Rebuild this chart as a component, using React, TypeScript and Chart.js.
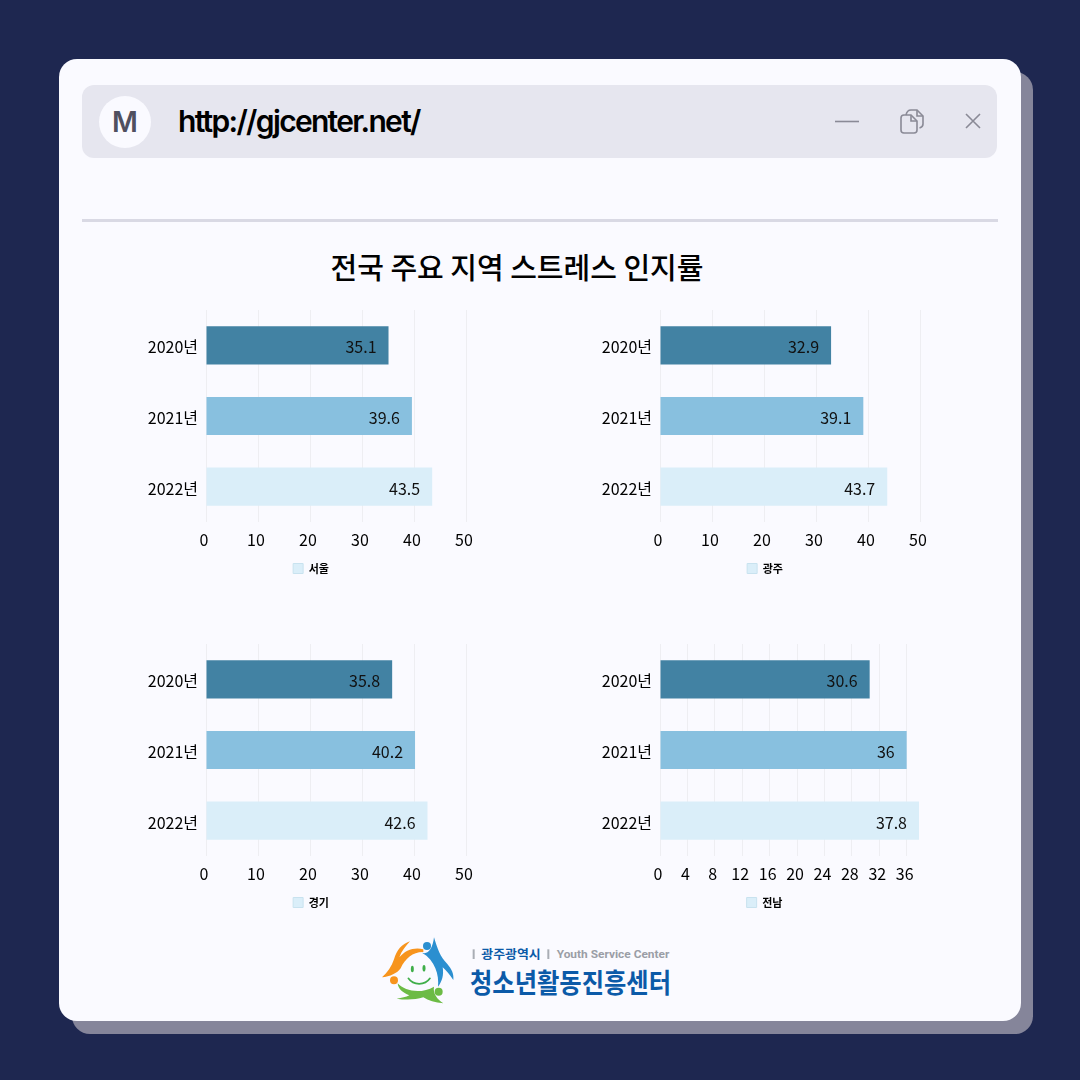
import React, { useRef, useEffect } from 'react';
import { Chart, registerables } from 'chart.js';

Chart.register(...registerables);

const years = ['2020년', '2021년', '2022년'];
const seoul = [35.1, 39.6, 43.5];
const gwangju = [32.9, 39.1, 43.7];
const gyeonggi = [35.8, 40.2, 42.6];
const jeonnam = [30.6, 36, 37.8];
const barColors = ['#4282A3', '#88C0DF', '#DAEEF9'];
const ticksByTen = [0, 10, 20, 30, 40, 50];
const ticksByFour = [0, 4, 8, 12, 16, 20, 24, 28, 32, 36];

const FONT = '"Noto Sans CJK KR", "Noto Sans", sans-serif';

// draws the value inside the end of each bar
const valueLabels = {
    id: 'valueLabels',
    afterLayout(chart: any) {
        // the y labels hang past the narrow axis box, stop them being clipped
        chart.scales.y.left = 0;
    },
    afterDatasetsDraw(chart: any) {
        const { ctx } = chart;
        const meta = chart.getDatasetMeta(0);
        ctx.save();
        ctx.font = `16px ${FONT}`;
        ctx.fillStyle = '#111';
        ctx.textAlign = 'right';
        ctx.textBaseline = 'middle';
        meta.data.forEach((bar: any, i: number) => {
            ctx.fillText(String(chart.data.datasets[0].data[i]), bar.x - 12, bar.y + 2);
        });
        ctx.restore();
    },
};

interface BarPanelProps {
    name: string;
    values: number[];
    left: number;
    top: number;
    max: number;
    tickValues: number[];
    rightPad: number;
}

const BarPanel: React.FC<BarPanelProps> = ({ name, values, left, top, max, tickValues, rightPad }) => {
    const chartRef = useRef<HTMLCanvasElement>(null);

    useEffect(() => {
        if (!chartRef.current) return;
        const chart = new Chart(chartRef.current, {
            type: 'bar',
            data: {
                labels: years,
                datasets: [{
                    label: name,
                    data: values,
                    backgroundColor: barColors,
                    barPercentage: 0.54,
                    categoryPercentage: 1,
                }],
            },
            options: {
                indexAxis: 'y',
                responsive: false,
                animation: false,
                layout: { padding: { top: 10, right: rightPad, left: 26, bottom: 0 } },
                scales: {
                    x: {
                        min: 0,
                        max,
                        grid: { color: '#EEEEF2', drawTicks: false },
                        border: { display: false },
                        ticks: {
                            padding: 8,
                            labelOffset: -2,
                            maxRotation: 0,
                            autoSkip: false,
                            color: '#000',
                            font: { family: FONT, size: 16 },
                        },
                        afterBuildTicks: (axis: any) => {
                            axis.ticks = tickValues.map((value) => ({ value }));
                        },
                        afterFit: (axis: any) => {
                            axis.height = 34;
                            axis.paddingLeft = 0;
                            axis.paddingRight = 0;
                        },
                    },
                    y: {
                        grid: { display: false, drawTicks: false },
                        border: { display: false },
                        ticks: {
                            padding: 8,
                            labelOffset: 2,
                            color: '#000',
                            font: { family: FONT, size: 16 },
                        },
                        afterFit: (axis: any) => {
                            axis.width = 50;
                            axis.paddingTop = 0;
                            axis.paddingBottom = 0;
                        },
                    },
                },
                plugins: {
                    tooltip: { enabled: false },
                    legend: {
                        position: 'bottom',
                        labels: {
                            boxWidth: 10,
                            boxHeight: 10,
                            padding: 7,
                            color: '#000',
                            font: { family: FONT, size: 11, weight: 'bold' },
                            generateLabels: () => [{
                                text: name,
                                fillStyle: '#DAEEF9',
                                strokeStyle: '#C8E2EF',
                                lineWidth: 1,
                                datasetIndex: 0,
                            }],
                        },
                    },
                },
            },
            plugins: [valueLabels],
        } as any);

        return () => {
            chart.destroy();
        };
    }, [name, values, max, tickValues, rightPad]);

    return (
        <div style={{ position: 'absolute', left, top, width: 362, height: 284 }}>
            <canvas ref={chartRef} width={362} height={284} style={{ display: 'block' }} />
        </div>
    );
};

const WindowIcons = () => (
    <svg style={{ position: 'absolute', left: 800, top: 90 }} width={200} height={70} viewBox="0 0 200 70" fill="none" stroke="#8A8A96" strokeWidth={1.6}>
        <path d="M35 31.5H59" />
        <path d="M104 25h7l6 6v9q0 3-3 3h-10q-3 0-3-3V28q0-3 3-3z" />
        <path d="M111 25v6h6" />
        <path d="M106 25q1-5 5-5h6l6 6v8q0 3-3.5 4" />
        <path d="M117 20v6h6" />
        <path d="M166 24L180 38M180 24L166 38" />
    </svg>
);

const Logo = () => (
    <svg style={{ position: 'absolute', left: 360, top: 920 }} width={330} height={100} viewBox="0 0 990 300">
        <path d="M190 88C165 80 135 90 118 112C125 92 138 78 150 64C125 72 110 90 102 118C95 140 82 158 66 172C90 170 112 160 122 145C135 115 160 95 190 96Z" fill="#F7941D" />
        <circle cx="102" cy="181" r="12" fill="#F7941D" />
        <path d="M186 98C205 105 218 85 222 52C232 85 240 110 262 132C275 148 282 160 280 180C270 165 258 150 248 142C252 165 246 185 234 200C238 165 225 120 186 98Z" fill="#2B8FD0" />
        <circle cx="201" cy="78" r="12" fill="#2B8FD0" />
        <path d="M113 190C135 215 185 222 222 200C218 220 232 238 250 250C225 248 205 242 190 232C165 240 135 240 110 236C125 233 138 232 148 226C128 218 115 208 113 190Z" fill="#6CBB45" />
        <circle cx="236" cy="215" r="12" fill="#6CBB45" />
        <ellipse cx="157" cy="147" rx="4.5" ry="10" fill="#3FAE49" />
        <ellipse cx="192" cy="145" rx="4.5" ry="10" fill="#3FAE49" />
        <path d="M145 175C160 197 195 197 210 175" fill="none" stroke="#3FAE49" strokeWidth={5} strokeLinecap="round" />
        <rect x="338" y="88" width="6" height="29" fill="#A9ADB5" />
        <rect x="562" y="88" width="6" height="29" fill="#A9ADB5" />
        <text x="364" y="117" fontFamily={FONT} fontWeight={700} fontSize={37} fill="#0B5AA8" textLength={178} lengthAdjust="spacingAndGlyphs">광주광역시</text>
        <text x="590" y="115" fontFamily="Roboto, sans-serif" fontWeight={700} fontSize={32} fill="#9A9EA6" textLength={338} lengthAdjust="spacingAndGlyphs">Youth Service Center</text>
        <text x="330" y="220" fontFamily={FONT} fontWeight={700} fontSize={82} fill="#0B5AA8" textLength={603} lengthAdjust="spacingAndGlyphs">청소년활동진흥센터</text>
    </svg>
);

const App: React.FC = () => {
    return (
        <div style={{ position: 'absolute', left: 0, top: 0, width: 1080, height: 1080, background: '#1E2750', overflow: 'hidden', fontFamily: FONT }}>
            <div style={{ position: 'absolute', left: 72, top: 72, width: 961, height: 962, borderRadius: 18, background: '#85859A' }} />
            <div style={{ position: 'absolute', left: 59, top: 59, width: 962, height: 962, borderRadius: 18, background: '#FAFAFF' }} />
            <div style={{ position: 'absolute', left: 82, top: 85, width: 915, height: 73, borderRadius: 12, background: '#E6E6EF' }} />
            <div style={{ position: 'absolute', left: 99, top: 96, width: 52, height: 52, borderRadius: 26, background: '#FAFAFF', color: '#50505F', fontFamily: 'Inter, sans-serif', fontWeight: 600, fontSize: 28, lineHeight: '52px', textAlign: 'center' }}>M</div>
            <div style={{ position: 'absolute', left: 178, top: 100, color: '#000', fontFamily: 'Inter, sans-serif', fontWeight: 600, fontSize: 30, lineHeight: '42px', letterSpacing: -1.7, whiteSpace: 'nowrap' }}>http://gjcenter.net/</div>
            <WindowIcons />
            <div style={{ position: 'absolute', left: 82, top: 219, width: 916, height: 3, background: '#D9D9E4' }} />
            <div style={{ position: 'absolute', left: 59, width: 916, top: 243, textAlign: 'center', color: '#000', fontWeight: 500, fontSize: 29, lineHeight: '46px', whiteSpace: 'nowrap' }}>전국 주요 지역 스트레스 인지률</div>
            <BarPanel name="서울" values={seoul} left={130} top={300} max={50} tickValues={ticksByTen} rightPad={26} />
            <BarPanel name="광주" values={gwangju} left={584} top={300} max={50} tickValues={ticksByTen} rightPad={26} />
            <BarPanel name="경기" values={gyeonggi} left={130} top={634} max={50} tickValues={ticksByTen} rightPad={26} />
            <BarPanel name="전남" values={jeonnam} left={584} top={634} max={37.8} tickValues={ticksByFour} rightPad={27} />
            <Logo />
        </div>
    );
};

export default App;
